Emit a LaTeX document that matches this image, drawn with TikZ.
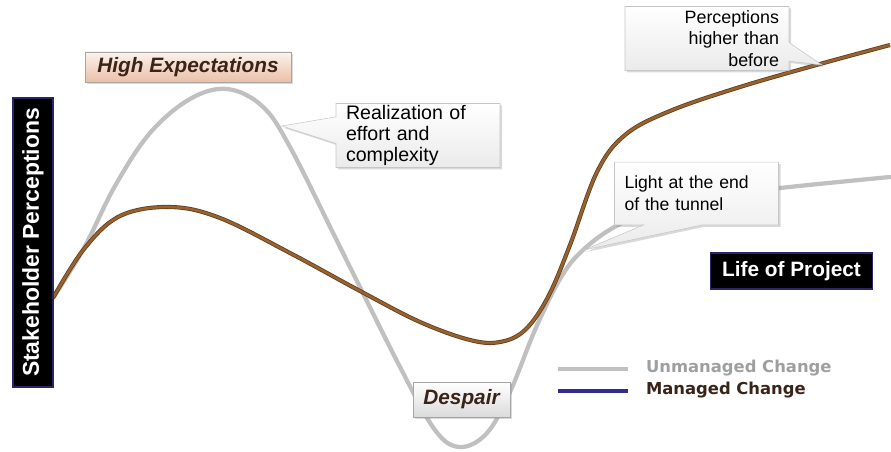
\documentclass[tikz,border=0pt]{standalone}
\usepackage{fontspec}
\setmainfont{Liberation Sans}
\newfontfamily\keyfont{DejaVu Sans}
\usetikzlibrary{positioning,shapes.callouts,shadows}

\definecolor{unmanaged}{RGB}{192,192,192}
\definecolor{managed}{RGB}{150,98,48}
\definecolor{manageddark}{RGB}{98,62,30}
\definecolor{keyblue}{RGB}{50,45,140}
\definecolor{navyline}{RGB}{42,36,105}
\definecolor{peachtop}{RGB}{252,242,236}
\definecolor{peachbot}{RGB}{234,192,168}
\definecolor{tagtext}{RGB}{58,36,26}

\begin{document}
\begin{tikzpicture}[x=0.75pt,y=-0.75pt
    , every node/.style={inner sep=0pt,outer sep=0pt}
    , softshadow/.style={drop shadow={shadow xshift=1.5pt,shadow yshift=-1.5pt,opacity=0.3}}
    , note/.style={rectangle callout,draw=gray!45,top color=white,bottom color=gray!16,
        softshadow,minimum width=123pt,minimum height=48pt,text width=108pt,
        font=\fontsize{13.4}{16}\selectfont}
    , tag/.style={draw=gray!70,softshadow,text=tagtext,
        font=\fontsize{15.6}{18}\selectfont\bfseries\itshape}
    , darkbox/.style={fill=black,draw=navyline,line width=1.4pt,text=white,
        font=\bfseries}
    , keytext/.style={font=\keyfont\fontsize{12.3}{14}\selectfont\bfseries}
]
    \useasboundingbox (0,0) rectangle (891,452);

    % Curves
    \draw[unmanaged,line width=3.2pt,line cap=round]
        plot[smooth,tension=0.6] coordinates {(53,298) (84,248) (115,186)
        (150,133) (190,99) (227,89) (262,106) (290,147)
        (340,247) (400,367) (435,430) (460,447) (487,433)
        (510,392) (535,330) (560,279) (583,250) (620,224)
        (680,200) (780,188) (890,177)};
    \draw[manageddark,double=managed,line width=0.6pt,double distance=1.9pt]
        plot[smooth,tension=0.6] coordinates {(53,298) (84,249) (120,216)
        (170,207) (220,218) (290,253) (360,291) (420,322) (470,340)
        (500,342) (525,330) (548,297) (570,245) (597,172)
        (625,135) (670,111) (740,87) (820,64) (890,45)};

    % Where the callouts point
    \coordinate (downturn) at (282,126);
    \coordinate (recovery) at (584,250);
    \coordinate (gain) at (822,65);

    % Callouts
    \node[note,align=left,font=\fontsize{14.7}{16}\selectfont,
        callout absolute pointer=(downturn),
        callout pointer width=20pt] (realize) at (418,135.5)
        {Realization of\\effort and\\complexity};
    \node[note,align=left,minimum height=47pt,font=\fontsize{13.2}{16.3}\selectfont,
        callout absolute pointer=(recovery),
        callout pointer width=44pt] (light) at (696.5,193.5)
        {Light at the end\\of the tunnel};
    \node[note,align=right,callout absolute pointer=(gain),
        callout pointer width=14pt] (higher) at (707,38.5)
        {Perceptions\\higher than\\before};

    % Tags
    \node[tag,top color=peachtop,bottom color=peachbot,
        minimum width=154.5pt,minimum height=22.5pt] (expect) at (188,67)
        {High Expectations};
    \node[tag,top color=white,bottom color=gray!28,
        minimum width=72.75pt,minimum height=26pt] (despair) at (461.5,399.5)
        {Despair};

    % Axes
    \node[darkbox,rotate=90,minimum width=216.75pt,minimum height=30pt,
        font=\fontsize{17.2}{20}\selectfont\bfseries] (yaxis) at (33,242.5)
        {Stakeholder Perceptions};
    \node[darkbox,minimum width=121.5pt,minimum height=27pt,
        font=\fontsize{15.6}{18}\selectfont\bfseries] (xaxis) at (791.5,271)
        {Life of Project};

    % Key
    \coordinate (unmA) at (558,369);
    \coordinate (unmB) at (628,369);
    \coordinate (manA) at (558,391);
    \coordinate (manB) at (628,391);
    \draw[unmanaged,line width=2.4pt] (unmA) -- (unmB);
    \draw[keyblue,line width=3pt] (manA) -- (manB);
    \node[keytext,text=gray!75,right=13.5pt of unmB,yshift=1pt] (unmtext)
        {Unmanaged Change};
    \node[keytext,text=tagtext,right=13.5pt of manB,yshift=1pt] (mantext)
        {Managed Change};

\end{tikzpicture}
\end{document}
